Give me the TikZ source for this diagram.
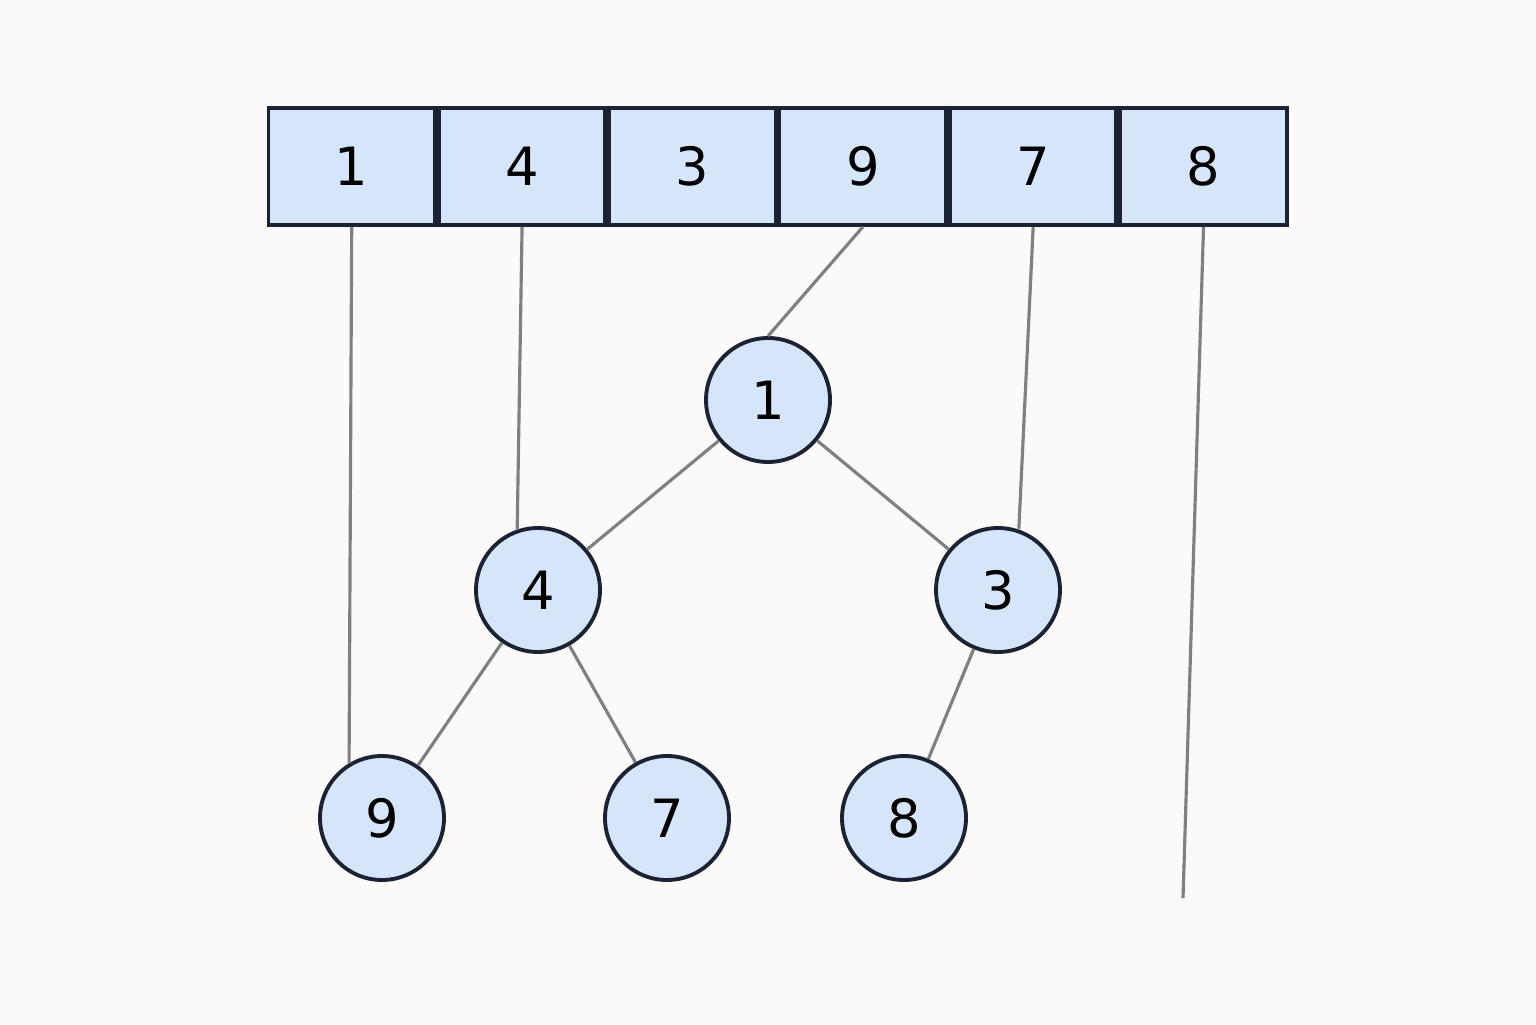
\documentclass[tikz,border=0pt]{standalone}
\usepackage{fontspec}
\setmainfont{DejaVu Sans}
\usepackage{xcolor}
\usetikzlibrary{positioning}
\definecolor{heapfill}{HTML}{D5E6FB}
\definecolor{heapline}{HTML}{1A2233}
\definecolor{linkgray}{HTML}{808080}
\definecolor{paper}{HTML}{FBFAF8}

\tikzset{
  cell/.style={draw=heapline, fill=heapfill, line width=1.1pt, minimum width=1.665cm,
    minimum height=1.17cm, inner sep=0pt, font=\fontsize{15}{17}\selectfont},
  heapnode/.style={circle, draw=heapline, fill=heapfill, line width=1.1pt,
    minimum size=1.24cm, inner sep=0pt, font=\fontsize{15}{17}\selectfont},
  link/.style={linkgray, line width=0.9pt}
}

\begin{document}
\begin{tikzpicture}
  % ── background ──
  \fill[paper] (0,0) rectangle (15.36,10.24);
  \useasboundingbox (0,0) rectangle (15.36,10.24);

  % ── The array ──
  \node[cell] (c1) at (3.517,8.575) {1};
  \node[cell, right=0pt of c1] (c4) {4};
  \node[cell, right=0pt of c4] (c3) {3};
  \node[cell, right=0pt of c3] (c9) {9};
  \node[cell, right=0pt of c9] (c7) {7};
  \node[cell, right=0pt of c7] (c8) {8};

  % ── The tree ──
  \node[heapnode] (n1) at (7.68,6.24) {1};
  \node[heapnode] (n4) at (5.38,4.34) {4};
  \node[heapnode] (n3) at (9.98,4.34) {3};
  \node[heapnode] (n9) at (3.82,2.06) {9};
  \node[heapnode] (n7) at (6.67,2.06) {7};
  \node[heapnode] (n8) at (9.04,2.06) {8};

  \draw[link] (n1) -- (n4);
  \draw[link] (n1) -- (n3);
  \draw[link] (n4) -- (n9);
  \draw[link] (n4) -- (n7);
  \draw[link] (n3) -- (n8);

  % array slots to tree nodes
  \coordinate (end8) at (11.83,1.26);
  \draw[link] (c1.south) -- (n9.121);
  \draw[link] (c4.south) -- (n4.109);
  \draw[link] (c9.south) -- (n1.north);
  \draw[link] (c7.south) -- (n3.71);
  \draw[link] (c8.south) -- (end8);
\end{tikzpicture}
\end{document}
